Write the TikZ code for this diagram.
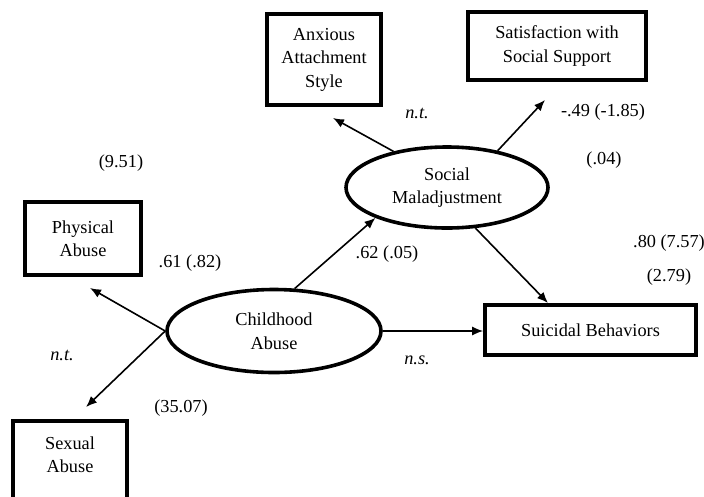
\documentclass[tikz,border=0pt]{standalone}
\usepackage{fontspec}
\setmainfont{Liberation Serif}
\usetikzlibrary{shapes.geometric,arrows.meta}

\begin{document}
\begin{tikzpicture}[x=1pt, y=-1pt,
  every node/.style={font=\fontsize{18.3}{23.5}\selectfont},
  varbox/.style={draw, line width=3.6pt, align=center, inner sep=0pt},
  latent/.style={draw, ellipse, line width=3.6pt, align=center, inner sep=0pt},
  effect/.style={line width=1.6pt, -{Latex[length=11pt,width=9pt]}},
  est/.style={inner sep=0pt}]
  \useasboundingbox (0,0) rectangle (704,496);
% latent variables
  \node[latent, minimum width=214pt, minimum height=83pt] (child) at (274,331) {Childhood\\Abuse};
  \node[latent, minimum width=202pt, minimum height=81pt] (social) at (447,187.5) {Social\\Maladjustment};
% observed variables
  \node[varbox, minimum width=114pt, minimum height=91pt] (anx) at (324,59.5) {Anxious\\Attachment\\Style};
  \node[varbox, minimum width=178pt, minimum height=68pt] (sat) at (557,46) {Satisfaction with\\Social Support};
  \node[varbox, minimum width=116pt, minimum height=73pt] (phys) at (83,238.5) {Physical\\Abuse};
  \node[varbox, minimum width=114pt, minimum height=91pt] (sex) at (70,466.5) {Sexual\\Abuse\\ };
  \node[varbox, minimum width=211pt, minimum height=50pt] (sui) at (590.5,330) {Suicidal Behaviors};
% arrow ends
  \coordinate (physTip) at (90,288);
  \coordinate (sexTip) at (86,407);
  \coordinate (anxTip) at (333,118);
  \coordinate (satTip) at (545,100);
  \coordinate (suiTip) at (548,303);
% paths
  \draw[effect] (child.west) -- (physTip);
  \draw[effect] (child.west) -- (sexTip);
  \draw[effect] (child.64) -- (social.203);
  \draw[effect] (child.east) -- (child.east -| sui.west);
  \draw[effect] (social.146) -- (anxTip);
  \draw[effect] (social.36) -- (satTip);
  \draw[effect] (social.-55) -- (suiTip);
% estimates
  \node[est] (e951) at (121,163) {(9.51)};
  \node[est] (e61) at (190,263) {.61 (.82)};
  \node[est] (ntsex) at (62,355) {\textit{n.t.}};
  \node[est] (e3507) at (181,408) {(35.07)};
  \node[est] (e62) at (387,254) {.62 (.05)};
  \node[est] (nssui) at (417,360) {\textit{n.s.}};
  \node[est] (ntanx) at (417,113) {\textit{n.t.}};
  \node[est] (e49) at (603,112) {-.49 (-1.85)};
  \node[est] (e04) at (604,160) {(.04)};
  \node[est] (e80) at (669,243) {.80 (7.57)};
  \node[est] (e279) at (669,277) {(2.79)};
\end{tikzpicture}
\end{document}
